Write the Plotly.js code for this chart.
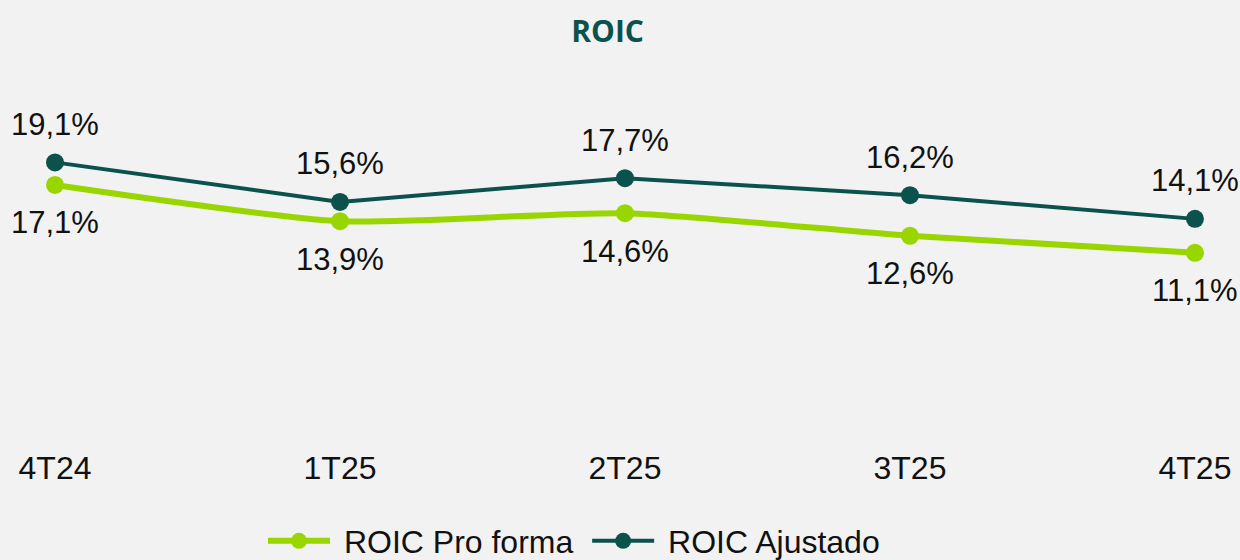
<!DOCTYPE html>
<html>
<head>
<meta charset="utf-8">
<script src="https://cdn.plot.ly/plotly-3.0.1.min.js"></script>
<style>html,body{margin:0;padding:0;background:#f2f2f2;}#chart{width:1240px;height:560px;}</style>
</head>
<body>
<div id="chart"></div>
<script>
const categories = ["4T24", "1T25", "2T25", "3T25", "4T25"];
const roicProForma = [17.1, 13.9, 14.6, 12.6, 11.1];
const roicAjustado = [19.1, 15.6, 17.7, 16.2, 14.1];
const seriesNames = ["ROIC Pro forma", "ROIC Ajustado"];
const chartTitle = "ROIC";

const lime = "#99d600";
const teal = "#0b524d";
const fmt = v => v.toFixed(1).replace(".", ",") + "%";
const xIdx = categories.map((c, i) => i);
const NB = "\u00a0";

const traces = [
  {
    x: xIdx, y: roicProForma, name: NB + seriesNames[0] + NB, type: "scatter", mode: "lines+markers",
    line: {color: lime, width: 6, shape: "spline", smoothing: 0.6},
    marker: {color: lime, size: 18}, hoverinfo: "skip"
  },
  {
    x: xIdx, y: roicAjustado, name: NB + seriesNames[1], type: "scatter", mode: "lines+markers",
    line: {color: teal, width: 4},
    marker: {color: teal, size: 18}, hoverinfo: "skip"
  }
];

const annFont = {family: "Liberation Sans, Arial, sans-serif", size: 31, color: "#111111"};
const annotations = [];
roicAjustado.forEach((v, i) => annotations.push({x: i, y: v, text: fmt(v), showarrow: false, yshift: 38, font: annFont, xanchor: "center", yanchor: "middle"}));
roicProForma.forEach((v, i) => annotations.push({x: i, y: v, text: fmt(v), showarrow: false, yshift: -38, font: annFont, xanchor: "center", yanchor: "middle"}));

const layout = {
  width: 1240, height: 560,
  paper_bgcolor: "#f2f2f2", plot_bgcolor: "#f2f2f2",
  margin: {l: 0, r: 0, t: 80, b: 114, pad: 0},
  title: {text: "<b>" + chartTitle + "</b>", x: 0.49, xanchor: "center", y: 1 - 31/560, yanchor: "middle",
          font: {family: "Open Sans, Inter, sans-serif", size: 30, weight: 800, color: teal}},
  xaxis: {
    tickvals: xIdx, ticktext: categories, range: [-0.193, 4.158],
    showgrid: false, zeroline: false, showline: false, ticks: "",
    tickfont: {family: "Liberation Sans, Arial, sans-serif", size: 32, color: "#111111"}
  },
  yaxis: {range: [-6.0, 26.39], visible: false, showgrid: false, zeroline: false},
  showlegend: true,
  legend: {orientation: "h", x: 263/1240, xanchor: "left", y: 19/560, yref: "container", yanchor: "middle",
           font: {family: "Liberation Sans, Arial, sans-serif", size: 32, color: "#111111"},
           bgcolor: "rgba(0,0,0,0)", itemwidth: 62, tracegroupgap: 0},
  annotations: annotations
};

Plotly.newPlot("chart", traces, layout, {staticPlot: true, displayModeBar: false});
</script>
</body>
</html>
